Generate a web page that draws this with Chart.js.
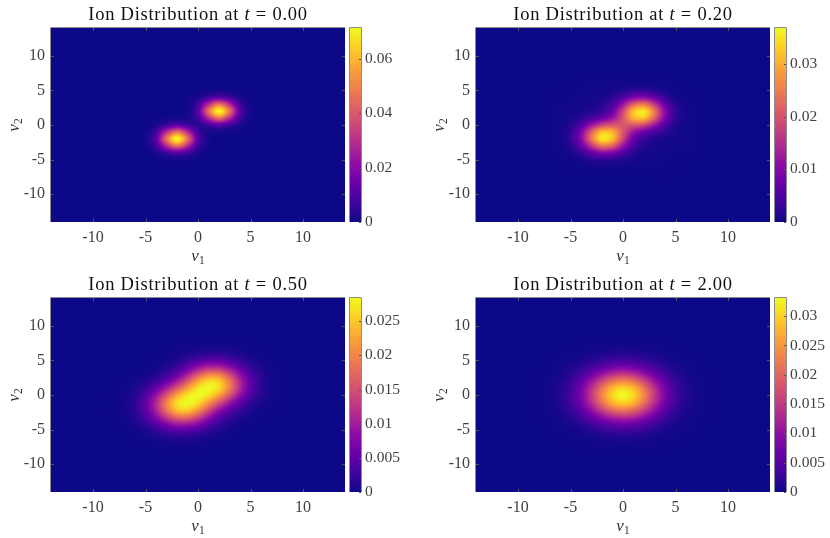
<!DOCTYPE html>
<html>
<head>
<meta charset="utf-8">
<style>
  html, body { margin: 0; padding: 0; background: #fff; }
  #fig { position: relative; width: 830px; height: 538px; overflow: hidden; }
  canvas { position: absolute; }
</style>
<script src="https://cdn.jsdelivr.net/npm/chart.js@4"></script>
</head>
<body>
<div id="fig"></div>
<script>
// values are in units of 1e-4, rows run from top (high v2) to bottom
const gridT0 = [-5, -4, -3, -2, -1, 0, 1, 2, 3, 4, 5]
const gridWide = [-7, -6, -5, -4, -3, -2, -1, 0, 1, 2, 3, 4, 5, 6, 7]
const gridFull = [-8, -7, -6, -5, -4, -3, -2, -1, 0, 1, 2, 3, 4, 5, 6, 7, 8]

const rowsT000 = [
    [0, 0, 0, 0, 0, 2, 8, 12, 8, 2, 0],
    [0, 0, 0, 0, 2, 19, 73, 116, 73, 19, 2],
    [0, 0, 0, 0, 8, 73, 288, 453, 288, 73, 8],
    [0, 0, 0, 1, 12, 116, 453, 713, 453, 116, 12],
    [0, 2, 8, 12, 16, 75, 288, 453, 288, 73, 8],
    [2, 19, 73, 116, 75, 38, 75, 116, 73, 19, 2],
    [8, 73, 288, 453, 288, 75, 16, 12, 8, 2, 0],
    [12, 116, 453, 713, 453, 116, 12, 1, 0, 0, 0],
    [8, 73, 288, 453, 288, 73, 8, 0, 0, 0, 0],
    [2, 19, 73, 116, 73, 19, 2, 0, 0, 0, 0],
    [0, 2, 8, 12, 8, 2, 0, 0, 0, 0, 0],
]
const rowsT020 = [
    [0, 0, 0, 1, 1, 1, 1, 1, 1, 1, 1, 1, 0, 0, 0],
    [0, 0, 1, 1, 2, 2, 3, 4, 5, 5, 4, 2, 1, 0, 0],
    [0, 1, 1, 2, 3, 4, 8, 15, 25, 27, 19, 8, 3, 1, 0],
    [1, 1, 2, 3, 5, 9, 21, 51, 90, 100, 69, 29, 8, 2, 1],
    [1, 2, 3, 5, 8, 16, 45, 119, 214, 240, 164, 69, 19, 4, 1],
    [1, 2, 4, 9, 16, 31, 75, 182, 316, 351, 240, 100, 27, 5, 1],
    [1, 3, 8, 21, 45, 75, 119, 203, 301, 316, 214, 90, 25, 5, 1],
    [1, 4, 15, 51, 119, 182, 203, 205, 203, 182, 119, 51, 15, 4, 1],
    [1, 5, 25, 90, 214, 316, 301, 203, 119, 75, 45, 21, 8, 3, 1],
    [1, 5, 27, 100, 240, 351, 316, 182, 75, 31, 16, 9, 4, 2, 1],
    [1, 4, 19, 69, 164, 240, 214, 119, 45, 16, 8, 5, 3, 2, 1],
    [1, 2, 8, 29, 69, 100, 90, 51, 21, 9, 5, 3, 2, 1, 1],
    [0, 1, 3, 8, 19, 27, 25, 15, 8, 4, 3, 2, 1, 1, 0],
    [0, 0, 1, 2, 4, 5, 5, 4, 3, 2, 2, 1, 1, 0, 0],
    [0, 0, 0, 1, 1, 1, 1, 1, 1, 1, 1, 1, 0, 0, 0],
]
const rowsT050 = [
    [0, 0, 0, 0, 0, 0, 0, 0, 1, 1, 1, 1, 0, 0, 0, 0, 0],
    [0, 0, 0, 0, 0, 0, 1, 2, 4, 5, 5, 4, 2, 1, 0, 0, 0],
    [0, 0, 0, 0, 0, 1, 4, 8, 13, 17, 17, 13, 8, 4, 1, 0, 0],
    [0, 0, 0, 0, 1, 4, 11, 24, 39, 50, 50, 38, 23, 10, 4, 1, 0],
    [0, 0, 0, 1, 4, 12, 27, 54, 88, 111, 110, 84, 50, 23, 8, 2, 0],
    [0, 0, 1, 4, 12, 27, 55, 101, 155, 193, 189, 143, 84, 38, 13, 4, 1],
    [0, 1, 4, 11, 27, 56, 99, 159, 223, 263, 251, 189, 110, 50, 17, 5, 1],
    [0, 2, 8, 23, 54, 101, 159, 218, 269, 284, 263, 193, 111, 50, 17, 5, 1],
    [1, 4, 13, 39, 88, 156, 223, 269, 284, 269, 223, 156, 88, 39, 13, 4, 1],
    [1, 5, 17, 50, 111, 193, 263, 284, 269, 218, 159, 101, 54, 23, 8, 2, 0],
    [1, 5, 17, 50, 110, 189, 251, 263, 223, 159, 99, 56, 27, 11, 4, 1, 0],
    [1, 4, 13, 38, 84, 143, 189, 193, 155, 101, 55, 27, 12, 4, 1, 0, 0],
    [0, 2, 8, 23, 50, 84, 110, 111, 88, 54, 27, 12, 4, 1, 0, 0, 0],
    [0, 1, 4, 10, 23, 38, 50, 50, 39, 24, 11, 4, 1, 0, 0, 0, 0],
    [0, 0, 1, 4, 8, 13, 17, 17, 13, 8, 4, 1, 0, 0, 0, 0, 0],
    [0, 0, 0, 1, 2, 4, 5, 5, 4, 2, 1, 0, 0, 0, 0, 0, 0],
    [0, 0, 0, 0, 0, 1, 1, 1, 1, 0, 0, 0, 0, 0, 0, 0, 0],
]
const rowsT200 = [
    [0, 0, 0, 0, 0, 1, 1, 1, 1, 1, 1, 1, 0, 0, 0, 0, 0],
    [0, 0, 0, 1, 1, 2, 4, 4, 5, 4, 4, 2, 1, 1, 0, 0, 0],
    [0, 0, 1, 2, 4, 7, 10, 13, 14, 13, 10, 7, 4, 2, 1, 0, 0],
    [0, 1, 2, 4, 9, 17, 27, 34, 38, 34, 27, 17, 9, 4, 2, 1, 0],
    [0, 1, 4, 10, 20, 38, 58, 75, 82, 75, 58, 38, 20, 10, 4, 1, 0],
    [1, 2, 7, 17, 38, 69, 107, 139, 151, 139, 107, 69, 38, 17, 7, 2, 1],
    [1, 4, 10, 27, 58, 107, 165, 214, 234, 214, 165, 107, 58, 27, 10, 4, 1],
    [1, 4, 13, 34, 75, 139, 214, 278, 303, 278, 214, 139, 75, 34, 13, 4, 1],
    [1, 5, 14, 38, 82, 151, 234, 303, 331, 303, 234, 151, 82, 38, 14, 5, 1],
    [1, 4, 13, 34, 75, 139, 214, 278, 303, 278, 214, 139, 75, 34, 13, 4, 1],
    [1, 4, 10, 27, 58, 107, 165, 214, 234, 214, 165, 107, 58, 27, 10, 4, 1],
    [1, 2, 7, 17, 38, 69, 107, 139, 151, 139, 107, 69, 38, 17, 7, 2, 1],
    [0, 1, 4, 10, 20, 38, 58, 75, 82, 75, 58, 38, 20, 10, 4, 1, 0],
    [0, 1, 2, 4, 9, 17, 27, 34, 38, 34, 27, 17, 9, 4, 2, 1, 0],
    [0, 0, 1, 2, 4, 7, 10, 13, 14, 13, 10, 7, 4, 2, 1, 0, 0],
    [0, 0, 0, 1, 1, 2, 4, 4, 5, 4, 4, 2, 1, 1, 0, 0, 0],
    [0, 0, 0, 0, 0, 1, 1, 1, 1, 1, 1, 1, 0, 0, 0, 0, 0],
]

const times = ["0.00", "0.20", "0.50", "2.00"]
const colorMax = [0.0713, 0.0368, 0.0284, 0.0331]
const velocityTicks = [-10, -5, 0, 5, 10]
const barTicksT000 = ["0", "0.02", "0.04", "0.06"]
const barTicksT020 = ["0", "0.01", "0.02", "0.03"]
const barTicksT050 = ["0", "0.005", "0.01", "0.015", "0.02", "0.025"]
const barTicksT200 = ["0", "0.005", "0.01", "0.015", "0.02", "0.025", "0.03"]

const plasma = [
    [13, 8, 135], [65, 4, 157], [106, 0, 168], [143, 13, 164], [177, 42, 144], [204, 71, 120],
    [225, 100, 98], [242, 132, 75], [252, 166, 54], [252, 206, 37], [240, 249, 33],
]
const serif = '"Liberation Serif", serif'
const tickColor = "#404040"
const boxColor = "#8c8c8c"

function plasmaAt(t) {
    t = Math.min(1, Math.max(0, t)) * (plasma.length - 1)
    const i = Math.min(plasma.length - 2, Math.floor(t))
    const f = t - i
    return plasma[i].map((c, k) => c + (plasma[i + 1][k] - c) * f)
}

function cubic(a, b, c, d, f) {
    return b + 0.5 * f * (c - a + f * (2 * a - 5 * b + 4 * c - d + f * (3 * (b - c) + d - a)))
}

// shading interp: sample the table with a bicubic at every pixel of the plot area
function sampleRows(rows, grid, x, y) {
    const fx = x - grid[0]
    const fy = grid[grid.length - 1] - y
    const ix = Math.floor(fx)
    const iy = Math.floor(fy)
    const at = (r, c) => (rows[r] && rows[r][c] !== undefined ? rows[r][c] : 0)
    const line = r => cubic(at(r, ix - 1), at(r, ix), at(r, ix + 1), at(r, ix + 2), fx - ix)
    return cubic(line(iy - 1), line(iy), line(iy + 1), line(iy + 2), fy - iy)
}

const heatmapPlugin = {
    id: "heatmap",
    beforeDatasetsDraw(chart) {
        const { ctx, chartArea: area, scales } = chart
        const ds = chart.data.datasets[0]
        const w = Math.round(area.width)
        const h = Math.round(area.height)
        const img = ctx.createImageData(w, h)
        for (let py = 0; py < h; py++) {
            const vy = scales.y.getValueForPixel(area.top + py + 0.5)
            for (let px = 0; px < w; px++) {
                const vx = scales.x.getValueForPixel(area.left + px + 0.5)
                const v = sampleRows(ds.rows, ds.grid, vx, vy) * 1e-4
                const c = plasmaAt(v / ds.colorMax)
                const o = (py * w + px) * 4
                img.data[o] = c[0]
                img.data[o + 1] = c[1]
                img.data[o + 2] = c[2]
                img.data[o + 3] = 255
            }
        }
        ctx.putImageData(img, Math.round(area.left), Math.round(area.top))
    },
}

// draws a list of text runs, italic where asked for
function drawRuns(ctx, runs, x, y, spacing) {
    const fontOf = r => `${r.it ? "italic " : ""}${r.size}px ${serif}`
    ctx.letterSpacing = (spacing || 0) + "px"
    let width = 0
    runs.forEach(r => {
        ctx.font = fontOf(r)
        width += ctx.measureText(r.text).width
    })
    let cx = x - width / 2
    ctx.textAlign = "left"
    ctx.textBaseline = "alphabetic"
    runs.forEach(r => {
        ctx.font = fontOf(r)
        ctx.fillText(r.text, cx, y + (r.dy || 0))
        cx += ctx.measureText(r.text).width
    })
    ctx.letterSpacing = "0px"
}

const framePlugin = {
    id: "frame",
    afterDraw(chart, args, opts) {
        const { ctx, chartArea: area, scales } = chart
        ctx.save()
        ctx.strokeStyle = boxColor
        ctx.lineWidth = 1
        ctx.beginPath()
        ctx.moveTo(area.left - 0.5, area.bottom)
        ctx.lineTo(area.left - 0.5, area.top - 0.5)
        ctx.lineTo(area.right + 0.5, area.top - 0.5)
        ctx.stroke()
        ctx.strokeStyle = "#555"
        ctx.beginPath()
        scales.x.ticks.forEach(t => {
            const x = Math.round(scales.x.getPixelForValue(t.value)) + 0.5
            ctx.moveTo(x, area.bottom)
            ctx.lineTo(x, area.bottom - 3)
            ctx.moveTo(x, area.top)
            ctx.lineTo(x, area.top + 3)
        })
        scales.y.ticks.forEach(t => {
            const y = Math.round(scales.y.getPixelForValue(t.value)) + 0.5
            ctx.moveTo(area.left, y)
            ctx.lineTo(area.left + 3, y)
            ctx.moveTo(area.right, y)
            ctx.lineTo(area.right - 3, y)
        })
        ctx.stroke()

        ctx.fillStyle = "#111"
        const midX = (area.left + area.right) / 2
        const midY = (area.top + area.bottom) / 2
        drawRuns(ctx, [
            { text: "Ion Distribution at ", size: 18.5 },
            { text: "t", size: 18.5, it: true },
            { text: " = " + opts.time, size: 18.5 },
        ], midX, area.top - 8, 0.75)
        ctx.fillStyle = "#333"
        drawRuns(ctx, [
            { text: "v", size: 17, it: true },
            { text: "1", size: 11.5, dy: 2.5 },
        ], midX, area.bottom + 39)
        ctx.save()
        ctx.translate(area.left - 32, midY)
        ctx.rotate(-Math.PI / 2)
        drawRuns(ctx, [
            { text: "v", size: 17, it: true },
            { text: "2", size: 11.5, dy: 2.5 },
        ], 0, 0)
        ctx.restore()
        ctx.restore()
    },
}

const barFramePlugin = {
    id: "barFrame",
    afterDraw(chart) {
        const { ctx, chartArea: area, scales } = chart
        ctx.save()
        ctx.strokeStyle = boxColor
        ctx.lineWidth = 1
        ctx.beginPath()
        ctx.moveTo(area.left - 0.5, area.bottom)
        ctx.lineTo(area.left - 0.5, area.top - 0.5)
        ctx.lineTo(area.right + 0.5, area.top - 0.5)
        ctx.lineTo(area.right + 0.5, area.bottom)
        ctx.stroke()
        ctx.strokeStyle = "#555"
        ctx.beginPath()
        scales.y.ticks.forEach(t => {
            const y = Math.round(scales.y.getPixelForValue(t.value)) + 0.5
            ctx.moveTo(area.right, y)
            ctx.lineTo(area.right - 2, y)
        })
        ctx.stroke()
        ctx.restore()
    },
}

function addCanvas(left, top, width, height) {
    const canvas = document.createElement("canvas")
    canvas.width = width
    canvas.height = height
    canvas.style.left = left + "px"
    canvas.style.top = top + "px"
    document.getElementById("fig").appendChild(canvas)
    return canvas
}

function buildHeatmap(left, top, index, grid, rows) {
    const points = []
    rows.forEach((row, r) => row.forEach((v, c) => {
        points.push({ x: grid[c], y: grid[grid.length - 1 - r], v: v })
    }))
    const tickFont = { family: serif, size: 16 }
    return new Chart(addCanvas(left, top, 345, 268), {
        type: "scatter",
        data: {
            datasets: [{
                data: points,
                rows: rows,
                grid: grid,
                colorMax: colorMax[index],
                pointRadius: 0,
            }],
        },
        options: {
            responsive: false,
            animation: false,
            events: [],
            layout: { padding: { top: 28, right: 0, bottom: 0, left: 0 } },
            plugins: {
                legend: { display: false },
                tooltip: { enabled: false },
                frame: { time: times[index] },
            },
            scales: {
                x: {
                    type: "linear",
                    min: -14,
                    max: 14,
                    grid: { display: false, drawTicks: false },
                    border: { display: false },
                    afterBuildTicks: s => { s.ticks = velocityTicks.map(v => ({ value: v })) },
                    afterFit: s => { s.height = 46 },
                    ticks: {
                        color: tickColor,
                        font: tickFont,
                        padding: 6,
                        maxRotation: 0,
                        autoSkip: false,
                        callback: v => String(v),
                    },
                },
                y: {
                    type: "linear",
                    min: -14,
                    max: 14,
                    grid: { display: false, drawTicks: false },
                    border: { display: false },
                    afterBuildTicks: s => { s.ticks = velocityTicks.map(v => ({ value: v })) },
                    afterFit: s => { s.width = 51 },
                    ticks: {
                        color: tickColor,
                        font: tickFont,
                        padding: 6,
                        autoSkip: false,
                        callback: v => String(v),
                    },
                },
            },
        },
        plugins: [heatmapPlugin, framePlugin],
    })
}

function barGradient(context) {
    const area = context.chart.chartArea
    if (!area) return plasma[0]
    const g = context.chart.ctx.createLinearGradient(0, area.bottom, 0, area.top)
    plasma.forEach((c, i) => g.addColorStop(i / (plasma.length - 1), `rgb(${c.join(",")})`))
    return g
}

function buildColorbar(left, top, index, labels) {
    return new Chart(addCanvas(left, top, 60, 268), {
        type: "bar",
        data: {
            labels: [times[index]],
            datasets: [{
                data: [[0, colorMax[index]]],
                backgroundColor: barGradient,
                barPercentage: 1,
                categoryPercentage: 1,
            }],
        },
        options: {
            responsive: false,
            animation: false,
            events: [],
            layout: { padding: { top: 28, right: 0, bottom: 46, left: 1 } },
            plugins: {
                legend: { display: false },
                tooltip: { enabled: false },
            },
            scales: {
                x: { display: false },
                y: {
                    position: "right",
                    min: 0,
                    max: colorMax[index],
                    grid: { display: false, drawTicks: false },
                    border: { display: false },
                    afterBuildTicks: s => { s.ticks = labels.map(v => ({ value: Number(v) })) },
                    afterFit: s => { s.width = 48 },
                    ticks: {
                        color: tickColor,
                        font: { family: serif, size: 15.5 },
                        padding: 4,
                        autoSkip: false,
                        callback: v => String(v),
                    },
                },
            },
        },
        plugins: [barFramePlugin],
    })
}

buildHeatmap(0, 0, 0, gridT0, rowsT000)
buildHeatmap(425, 0, 1, gridWide, rowsT020)
buildHeatmap(0, 270, 2, gridFull, rowsT050)
buildHeatmap(425, 270, 3, gridFull, rowsT200)
buildColorbar(349, 0, 0, barTicksT000)
buildColorbar(774, 0, 1, barTicksT020)
buildColorbar(349, 270, 2, barTicksT050)
buildColorbar(774, 270, 3, barTicksT200)
</script>
</body>
</html>
